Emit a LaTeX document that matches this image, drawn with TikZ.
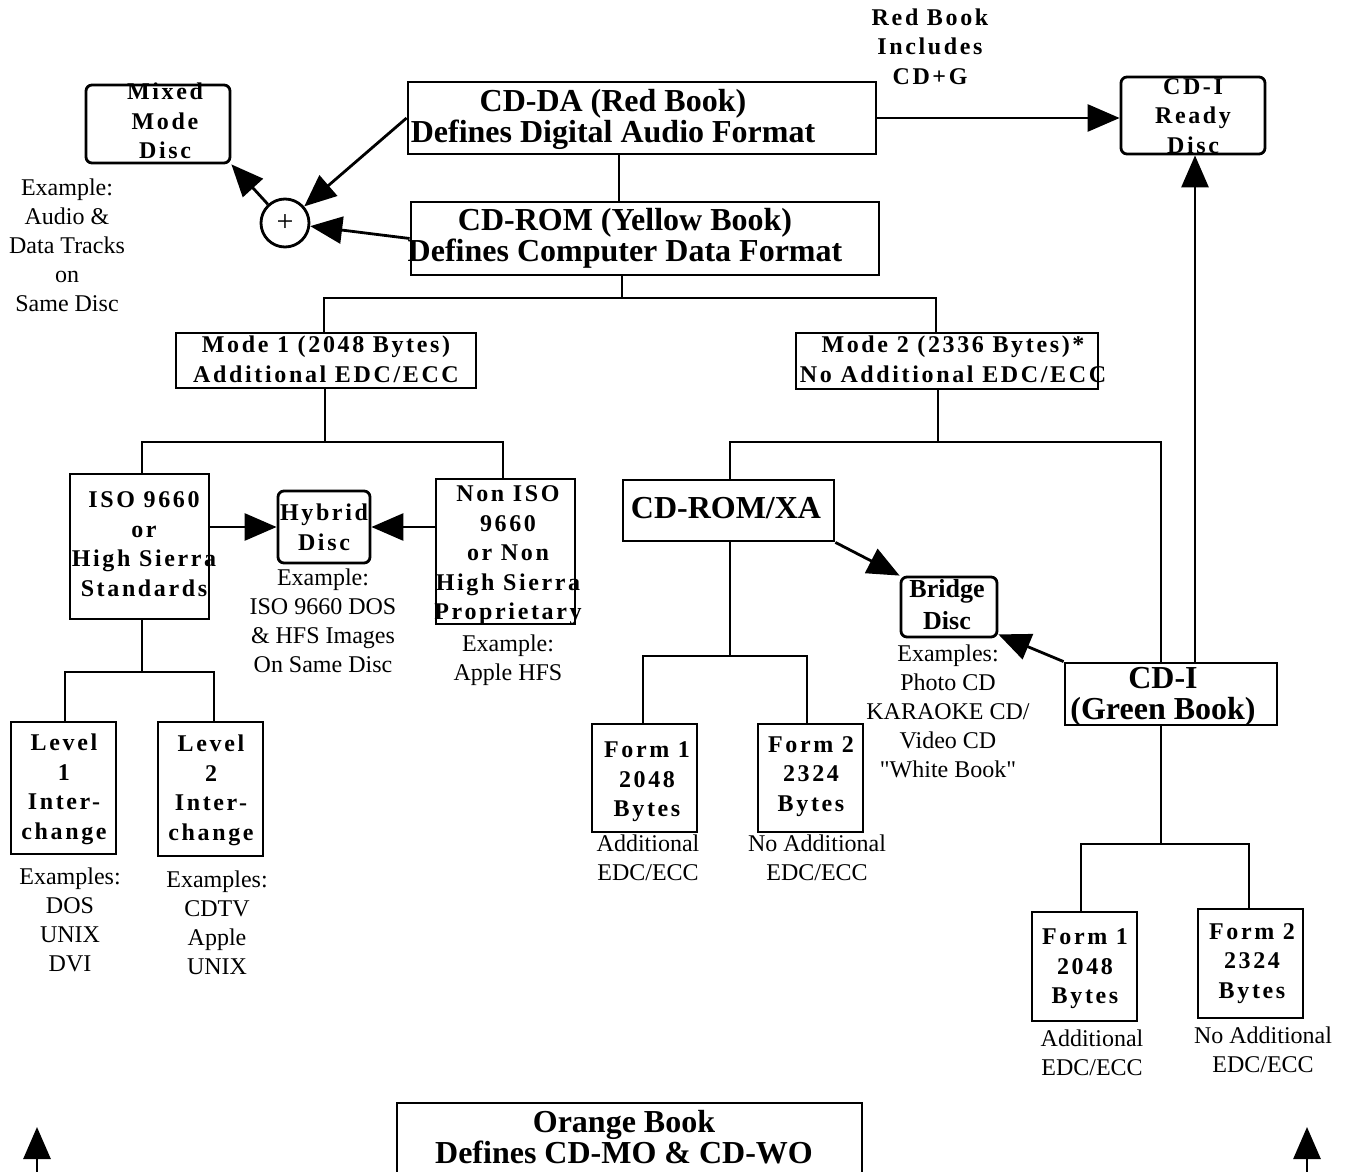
\documentclass[tikz,border=0pt]{standalone}
\usepackage{fontspec}
\setmainfont{Liberation Serif}
\newfontfamily\spcfam[LetterSpace=11]{Liberation Serif}
\newfontfamily\rawfam{Liberation Serif}
\usetikzlibrary{arrows.meta}
\newcommand\mybox[6]{\node[#2, minimum width={#5-#3}, minimum height={#6-#4}] (#1) at ({(#3+#5)/2},{(#4+#6)/2}) {};}
\begin{document}
\begin{tikzpicture}[x=1pt,y=-1pt,
  box/.style={draw, line width=2.8pt, inner sep=0pt},
  rbox/.style={box, rounded corners=6pt},
  big/.style={font=\bfseries\fontsize{32}{31}\selectfont, align=center, inner sep=0pt},
  mid/.style={font=\bfseries\fontsize{26}{32}\selectfont, align=center, inner sep=0pt},
  spaced/.style={font=\spcfam\bfseries\fontsize{24}{29.5}\selectfont, align=center, inner sep=0pt},
  reg/.style={font=\fontsize{24}{29}\selectfont, align=center, inner sep=0pt},
  arr/.style={-{Triangle[length=32pt,width=27pt]}, line width=2.8pt},
  con/.style={line width=2.8pt}]
\useasboundingbox (0,0) rectangle (1346,1172);
\clip (0,0) rectangle (1346,1172);

% boxes
\mybox{mixed}{rbox}{86}{85}{230}{163}
\mybox{cdda}{box}{408}{82}{876}{154}
\mybox{cdrom}{box}{411}{202}{879}{275}
\node[draw, circle, line width=2.8pt, minimum size=48pt, inner sep=0pt, font=\fontsize{30}{30}\selectfont] (plus) at (285,223) {+};
\mybox{cdir}{rbox}{1121}{77}{1265}{154}
\mybox{mode1}{box}{176}{333}{476}{388}
\mybox{mode2}{box}{796}{333}{1098}{389}
\mybox{iso}{box}{70}{474}{209}{619}
\mybox{hyb}{rbox}{278}{491}{370}{563}
\mybox{noniso}{box}{436}{479}{575}{624}
\mybox{l1}{box}{11}{722}{116}{854}
\mybox{l2}{box}{158}{722}{263}{856}
\mybox{xa}{box}{623}{480}{834}{541}
\mybox{bridge}{rbox}{901}{577}{997}{637}
\mybox{cdig}{box}{1065}{663}{1277}{725}
\mybox{f1l}{box}{592}{724}{697}{832}
\mybox{f2l}{box}{758}{724}{863}{832}
\mybox{f1r}{box}{1032}{912}{1137}{1021}
\mybox{f2r}{box}{1198}{909}{1303}{1018}
\mybox{orange}{box}{397}{1103}{862}{1200}

% texts
\node[reg] (ex-mixed) at (67,245.5) {Example:\\Audio \&\\Data Tracks\\on\\Same Disc};
\node[spaced] (mixed-t) at (165,121) {Mixed\\Mode\\Disc};
\node[big] (cdda-t) at (613,119) {CD-DA (Red Book)\\Defines Digital Audio Format};
\node[big] (cdrom-t) at (625,238.5) {CD-ROM (Yellow Book)\\Defines Computer Data Format};
\node[spaced] (rb-t) at (930,46.5) {Red Book\\Includes\\CD+G};
\node[spaced] (cdir-t) at (1193,116) {CD-I\\Ready\\Disc};
\node[spaced] (mode1-t) at (326,359.5) {Mode 1 (2048 Bytes)\\Additional EDC/ECC};
\node[spaced] (mode2-t) at (953,359.5) {Mode 2 (2336 Bytes)*\\No Additional EDC/ECC};
\node[spaced] (iso-t) at (144,544) {ISO 9660\\or\\High Sierra\\Standards};
\node[spaced] (hyb-t) at (324,527.5) {Hybrid\\Disc};
\node[spaced] (non-t) at (508,555.5) {Non ISO\\9660\\or Non\\High Sierra\\Proprietary};
\node[reg] (ex-hyb) at (323,620.5) {Example:\\ISO 9660 DOS\\\& HFS Images\\On Same Disc};
\node[reg] (ex-non) at (508,660.5) {Example:\\Apple HFS};
\node[spaced] (l1-t) at (64,789.5) {Level\\1\\Inter-\\change};
\node[spaced] (l2-t) at (211,790.5) {Level\\2\\Inter-\\change};
\node[reg] (ex-l1) at (70,919.5) {Examples:\\DOS\\UNIX\\DVI};
\node[reg] (ex-l2) at (217,923) {Examples:\\CDTV\\Apple\\UNIX};
\node[big] (xa-t) at (726,508) {CD-ROM/XA};
\node[mid] (br-t) at (947,605) {Bridge\\Disc};
\node[reg] (ex-br) at (948,711.5) {Examples:\\Photo CD\\KARAOKE CD/\\Video CD\\{\rawfam"White Book"}};
\node[big] (cdig-t) at (1163,697) {CD-I\\(Green Book)};
\node[spaced] (f1l-t) at (647,782) {Form 1\\2048\\Bytes};
\node[spaced] (f2l-t) at (811,776.5) {Form 2\\2324\\Bytes};
\node[reg] (ex-f1l) at (648,858) {Additional\\EDC/ECC};
\node[reg] (ex-f2l) at (817,858) {No Additional\\EDC/ECC};
\node[spaced] (f1r-t) at (1085,969) {Form 1\\2048\\Bytes};
\node[spaced] (f2r-t) at (1252,963.5) {Form 2\\2324\\Bytes};
\node[reg] (ex-f1r) at (1092,1053) {Additional\\EDC/ECC};
\node[reg] (ex-f2r) at (1263,1049.5) {No Additional\\EDC/ECC};
\node[big] (orange-t) at (624,1137) {Orange Book\\Defines CD-MO \& CD-WO};

% tree connectors
\coordinate (c1) at (619,0);
\draw[con] (cdda.south -| c1) -- (cdrom.north -| c1);
\coordinate (b1) at (622,298); \coordinate (b1l) at (324,298); \coordinate (b1r) at (936,298);
\draw[con] (cdrom.south -| b1) -- (b1);
\draw[con] (mode1.north -| b1l) -- (b1l) -- (b1r) -- (mode2.north -| b1r);
\coordinate (b2) at (325,442); \coordinate (b2l) at (142,442); \coordinate (b2r) at (503,442);
\draw[con] (mode1.south -| b2) -- (b2);
\draw[con] (iso.north -| b2l) -- (b2l) -- (b2r) -- (noniso.north -| b2r);
\coordinate (b3) at (142,672); \coordinate (b3l) at (65,672); \coordinate (b3r) at (214,672);
\draw[con] (iso.south -| b3) -- (b3);
\draw[con] (l1.north -| b3l) -- (b3l) -- (b3r) -- (l2.north -| b3r);
\coordinate (b4) at (938,442); \coordinate (b4l) at (730,442); \coordinate (b4r) at (1161,442);
\draw[con] (mode2.south -| b4) -- (b4);
\draw[con] (xa.north -| b4l) -- (b4l) -- (b4r) -- (cdig.north -| b4r);
\coordinate (b5) at (730,656); \coordinate (b5l) at (643,656); \coordinate (b5r) at (807,656);
\draw[con] (xa.south -| b5) -- (b5);
\draw[con] (f1l.north -| b5l) -- (b5l) -- (b5r) -- (f2l.north -| b5r);
\coordinate (b6) at (1161,844); \coordinate (b6l) at (1081,844); \coordinate (b6r) at (1249,844);
\draw[con] (cdig.south -| b6) -- (b6);
\draw[con] (f1r.north -| b6l) -- (b6l) -- (b6r) -- (f2r.north -| b6r);

% arrows
\draw[arr] (cdda.west) -- (plus);
\draw[arr] (cdrom.west) -- (plus);
\draw[arr] (plus) -- (mixed.south east);
\draw[arr] (cdda.east) -- (cdda.east -| cdir.west);
\coordinate (c2) at (1195,0);
\draw[arr] (cdig.north -| c2) -- (cdir.south -| c2);
\draw[arr] (iso.east |- hyb.west) -- (hyb.west);
\draw[arr] (noniso.west |- hyb.east) -- (hyb.east);
\draw[arr] (xa.south east) -- (bridge.north west);
\draw[arr] (cdig.north west) -- ([yshift=4pt]bridge.south east);
\coordinate (la0) at (37,1180); \coordinate (la1) at (37,1127);
\coordinate (ra0) at (1307,1180); \coordinate (ra1) at (1307,1127);
\draw[arr] (la0) -- (la1);
\draw[arr] (ra0) -- (ra1);
\end{tikzpicture}
\end{document}
